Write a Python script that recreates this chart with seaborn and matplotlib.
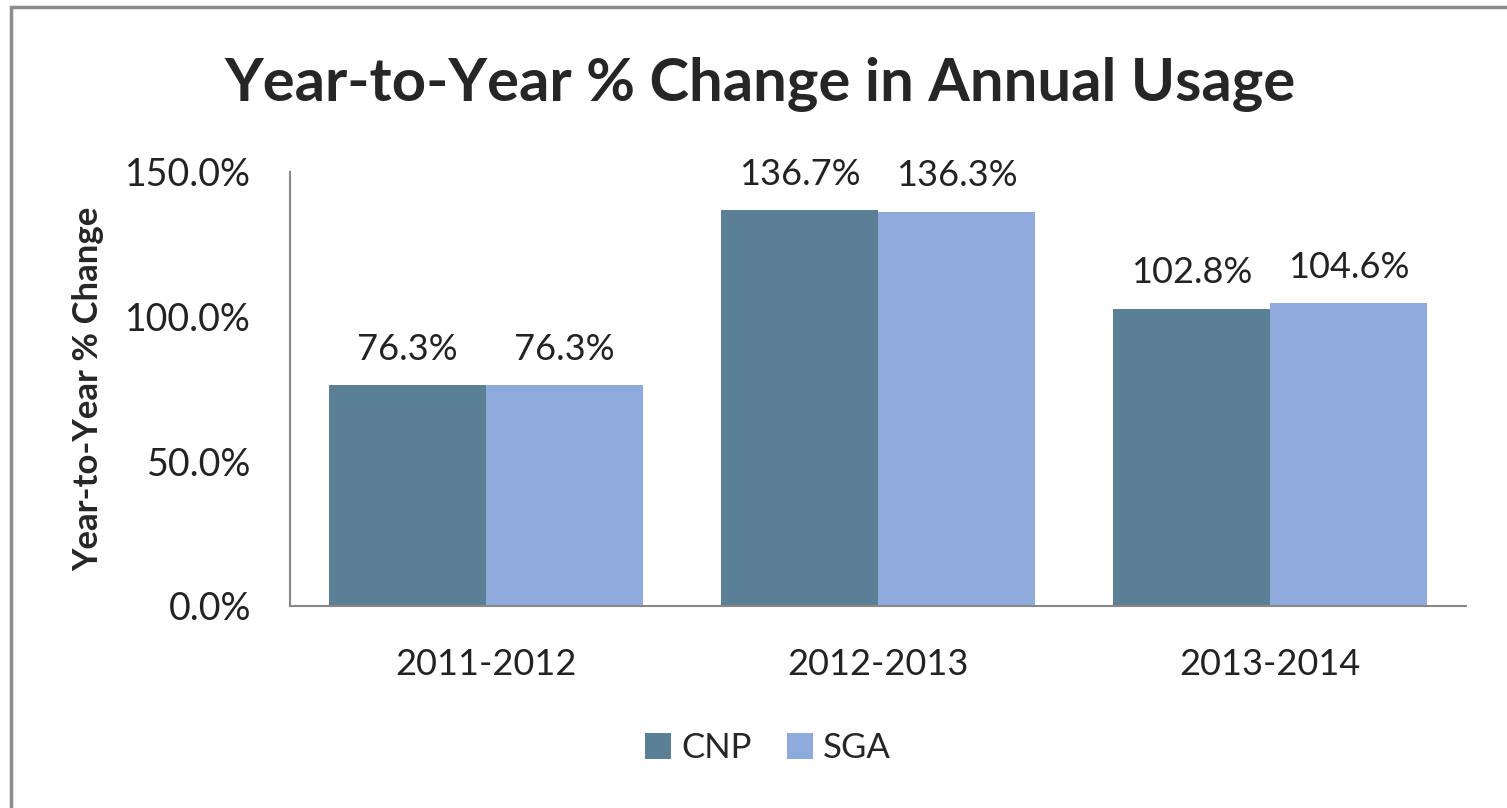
import pandas as pd
import seaborn as sns
import matplotlib.pyplot as plt
from matplotlib.patches import Rectangle
from matplotlib.ticker import FuncFormatter

periods = ["2011-2012", "2012-2013", "2013-2014"]
cnp = [76.3, 136.7, 102.8]
sga = [76.3, 136.3, 104.6]
series = ["CNP", "SGA"]
colors = ["#5B7F95", "#8FAADC"]

df = pd.DataFrame({
    "period": periods * 2,
    "value": cnp + sga,
    "series": ["CNP"] * len(periods) + ["SGA"] * len(periods),
})

sns.set_style("white")
plt.rcParams["font.family"] = ["Lato", "DejaVu Sans"]

fig = plt.figure(figsize=(15.07, 8.08), dpi=100)
ax = fig.add_axes([290 / 1507, 1 - 606 / 808, (1466 - 290) / 1507, (606 - 172) / 808])

sns.barplot(data=df, x="period", y="value", hue="series", palette=colors,
            width=0.8, gap=0, saturation=1, ax=ax, edgecolor="none")

txt = "#222222"
ax.set_ylim(0, 150)
ax.set_xlim(-0.5, len(periods) - 0.5)
ax.set_yticks([0, 50, 100, 150])
ax.yaxis.set_major_formatter(FuncFormatter(lambda v, p: f"{v:.1f}%"))
ax.set_xticks([i - 0.5 for i in range(len(periods) + 1)], minor=True)
ax.tick_params(axis="x", which="major", length=0, labelsize=26, pad=30, colors=txt)
ax.tick_params(axis="x", which="minor", length=10, width=1.5, color="#888888", direction="out")
ax.tick_params(axis="y", length=10, width=1.5, color="#888888", direction="out",
               labelsize=27, labelcolor=txt, pad=18)

for s in ["top", "right"]:
    ax.spines[s].set_visible(False)
for s in ["left", "bottom"]:
    ax.spines[s].set_color("#888888")
    ax.spines[s].set_linewidth(1.5)

ax.set_xlabel("")
ax.set_ylabel("Year-to-Year % Change", fontsize=25, fontweight="bold")
ax.yaxis.set_label_coords(-(290 - 104) / 1176, 0.5)

for cont in ax.containers:
    ax.bar_label(cont, labels=[f"{v:.1f}%" for v in cont.datavalues],
                 padding=14, fontsize=26, color=txt)

handles, labels = ax.get_legend_handles_labels()
ax.get_legend().remove()
fig.legend(handles, labels, loc="center", bbox_to_anchor=(768 / 1507, 1 - 748 / 808),
           ncol=2, frameon=False, fontsize=25, handlelength=0.75, handleheight=0.75,
           handletextpad=0.3, columnspacing=1.0)

fig.suptitle("Year-to-Year % Change in Annual Usage", fontsize=43, fontweight="bold",
             x=760 / 1507, y=1 - 85 / 808, va="center")

fig.patches.append(Rectangle((11 / 1507, -0.1), 1.2, 1.1 - 7 / 808,
                             transform=fig.transFigure, fill=False,
                             edgecolor="#8c8c8c", linewidth=2.5))

fig.savefig("out.png", dpi=100)
